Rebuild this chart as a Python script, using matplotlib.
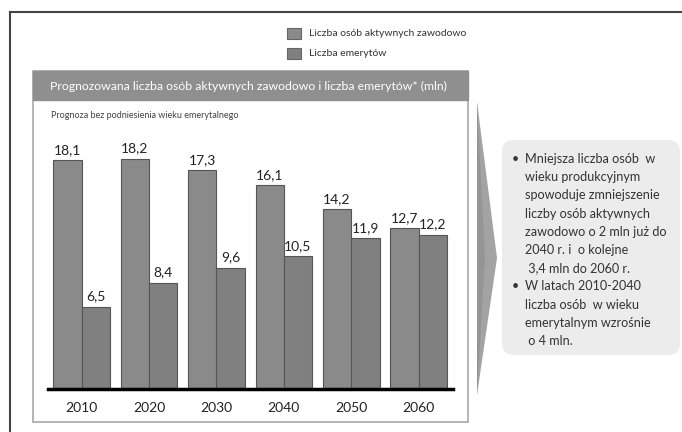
import numpy as np
import matplotlib.pyplot as plt
from matplotlib.patches import Rectangle, Polygon, FancyBboxPatch

plt.rcParams['font.family'] = ['Lato', 'DejaVu Sans']

# data
years = ['2010', '2020', '2030', '2040', '2050', '2060']
aktywni = [18.1, 18.2, 17.3, 16.1, 14.2, 12.7]
emeryci = [6.5, 8.4, 9.6, 10.5, 11.9, 12.2]
series_names = ['Liczba osób aktywnych zawodowo', 'Liczba emerytów']
title = 'Prognozowana liczba osób aktywnych zawodowo i liczba emerytów* (mln)'
subtitle = 'Prognoza bez podniesienia wieku emerytalnego'
note_lines = [
    ('•', 'Mniejsza liczba osób  w'),
    ('', 'wieku produkcyjnym'),
    ('', 'spowoduje zmniejszenie'),
    ('', 'liczby osób aktywnych'),
    ('', 'zawodowo o 2 mln już do'),
    ('', '2040 r. i  o kolejne'),
    ('', ' 3,4 mln do 2060 r.'),
    ('•', 'W latach 2010-2040'),
    ('', 'liczba osób  w wieku'),
    ('', 'emerytalnym wzrośnie'),
    ('', ' o 4 mln.'),
]

W, H = 682, 432
fig = plt.figure(figsize=(W / 100, H / 100), dpi=100)

# background layer in pixel coords (y from top)
bg = fig.add_axes([0, 0, 1, 1])
bg.set_xlim(0, W)
bg.set_ylim(H, 0)
bg.axis('off')

bg.plot([10, W], [12, 12], color='#444444', lw=1.5)
bg.plot([10, 10], [12, H], color='#444444', lw=1.5)

# legend
bg.add_patch(Rectangle((287, 28), 14, 11, facecolor='#8a8a8a', edgecolor='#666666', lw=0.8))
bg.add_patch(Rectangle((287, 48), 14, 11, facecolor='#808080', edgecolor='#666666', lw=0.8))
bg.text(309, 33.5, series_names[0], fontsize=7.5, color='#333333', va='center')
bg.text(309, 53.5, series_names[1], fontsize=7.5, color='#333333', va='center')

# chart box with header
bg.add_patch(Rectangle((33, 71), 435, 351, facecolor='white', edgecolor='#a8a8a8', lw=1.2))
bg.add_patch(Rectangle((33, 71), 435, 29, facecolor='#8f8f8f', edgecolor='#8f8f8f', lw=1))
bg.text(50, 86, title, fontsize=8.8, color='white', va='center')
bg.text(51, 115, subtitle, fontsize=6.5, color='#444444', va='center')

# arrow, slightly darker on the left
bg.add_patch(Polygon([(477, 102), (497, 258), (477, 395)], closed=True,
                     facecolor='#a3a3a3', edgecolor='none'))
bg.add_patch(Polygon([(477, 102), (485, 258), (477, 395)], closed=True,
                     facecolor='#959595', edgecolor='none'))

# note box
bg.add_patch(FancyBboxPatch((502, 140), 178, 215, boxstyle='round,pad=0,rounding_size=12',
                            facecolor='#ececec', edgecolor='none'))
for i, (b, line) in enumerate(note_lines):
    y = 159 + i * 18.2
    if b:
        bg.text(512, y, b, fontsize=9, color='#333333', va='center')
    bg.text(525, y, line, fontsize=9.1, color='#333333', va='center')

# bar chart
ax = fig.add_axes([48 / W, 43 / H, 405 / W, 259 / H])
x = np.arange(len(years))
w = 0.42
b1 = ax.bar(x - w / 2, aktywni, w, color='#8a8a8a', edgecolor='#555555', lw=0.8)
b2 = ax.bar(x + w / 2, emeryci, w, color='#808080', edgecolor='#555555', lw=0.8)
for bars, vals in [(b1, aktywni), (b2, emeryci)]:
    for r, v in zip(bars, vals):
        ax.annotate(('%.1f' % v).replace('.', ','), (r.get_x() + r.get_width() / 2, v),
                    xytext=(0, 3), textcoords='offset points', ha='center', va='bottom',
                    fontsize=10, color='#222222')
ax.set_xlim(-0.5, 5.51)
ax.set_ylim(0, 259 / 12.65)
ax.axhline(0, color='black', lw=2.5, clip_on=False)
ax.set_xticks(x)
ax.set_xticklabels(years, fontsize=10, color='#222222')
ax.tick_params(axis='x', length=0, pad=9)
ax.set_yticks([])
for s in ax.spines.values():
    s.set_visible(False)
ax.patch.set_alpha(0)

fig.savefig('out.png', dpi=100)
